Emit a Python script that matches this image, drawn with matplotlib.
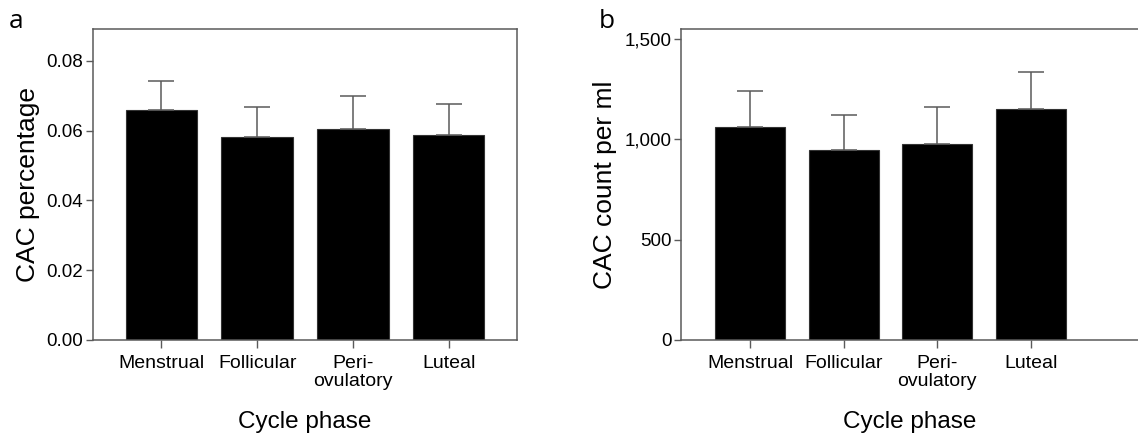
import numpy as np
import matplotlib
matplotlib.use("Agg")
import matplotlib.pyplot as plt
from matplotlib.ticker import FuncFormatter

plt.rcParams['font.family'] = ['Liberation Sans', 'DejaVu Sans']

# ---------------------------- data ----------------------------
phases = ["Menstrual", "Follicular", "Peri-\novulatory", "Luteal"]

pct_mean = [0.0659, 0.0583, 0.0605, 0.0587]
pct_upper = [0.0741, 0.0667, 0.0700, 0.0675]

count_mean = [1063, 947, 978, 1153]
count_upper = [1239, 1119, 1163, 1337]

frame_col = '#5a5a5a'

fig = plt.figure(figsize=(11.38, 4.33), dpi=100)
ax_a = fig.add_axes([93/1138, 93/433, 424/1138, 311/433])
ax_b = fig.add_axes([681/1138, 93/433, 1 - 681/1138, 311/433])


def draw(ax, means, upper, ymax, yticks, fmt, ylabel):
    x = np.arange(len(means))
    err = np.array(upper) - np.array(means)
    ax.bar(x, means, width=0.75, color='black', edgecolor='#333333', linewidth=0.8, zorder=2)
    ax.errorbar(x, means, yerr=[np.zeros(len(means)), err], fmt='none',
                ecolor=frame_col, elinewidth=1.1, capsize=9.1, capthick=1.1, zorder=3)
    ax.set_ylim(0, ymax)
    ax.set_yticks(yticks)
    ax.yaxis.set_major_formatter(FuncFormatter(fmt))
    ax.set_xticks(x)
    ax.set_xticklabels(phases, fontsize=14, linespacing=1.05)
    ax.tick_params(axis='y', labelsize=13.5, length=5, width=1, color=frame_col, pad=2)
    ax.tick_params(axis='x', length=6, width=1, color=frame_col, pad=5)
    for s in ax.spines.values():
        s.set_color(frame_col)
        s.set_linewidth(1.1)
    ax.set_xlabel("Cycle phase", fontsize=17.5, labelpad=15)
    ax.set_ylabel(ylabel, fontsize=19, labelpad=5)


draw(ax_a, pct_mean, pct_upper, 0.0891, [0, 0.02, 0.04, 0.06, 0.08],
     lambda v, p: "%.2f" % v, "CAC percentage")
ax_a.set_xlim(-0.715, 3.715)

draw(ax_b, count_mean, count_upper, 1550, [0, 500, 1000, 1500],
     lambda v, p: "{:,.0f}".format(v), "CAC count per ml")
ax_b.set_xlim(-0.74, -0.74 + 457/93.5)
ax_b.spines['right'].set_visible(False)

# panel letters
fig.text(9/1138, 1 - 28/433, "a", fontsize=19, family=['Open Sans', 'DejaVu Sans'],
         ha='left', va='baseline')
fig.text(599/1138, 1 - 28/433, "b", fontsize=19, family=['Open Sans', 'DejaVu Sans'],
         ha='left', va='baseline')

fig.savefig("out.png", dpi=100)
